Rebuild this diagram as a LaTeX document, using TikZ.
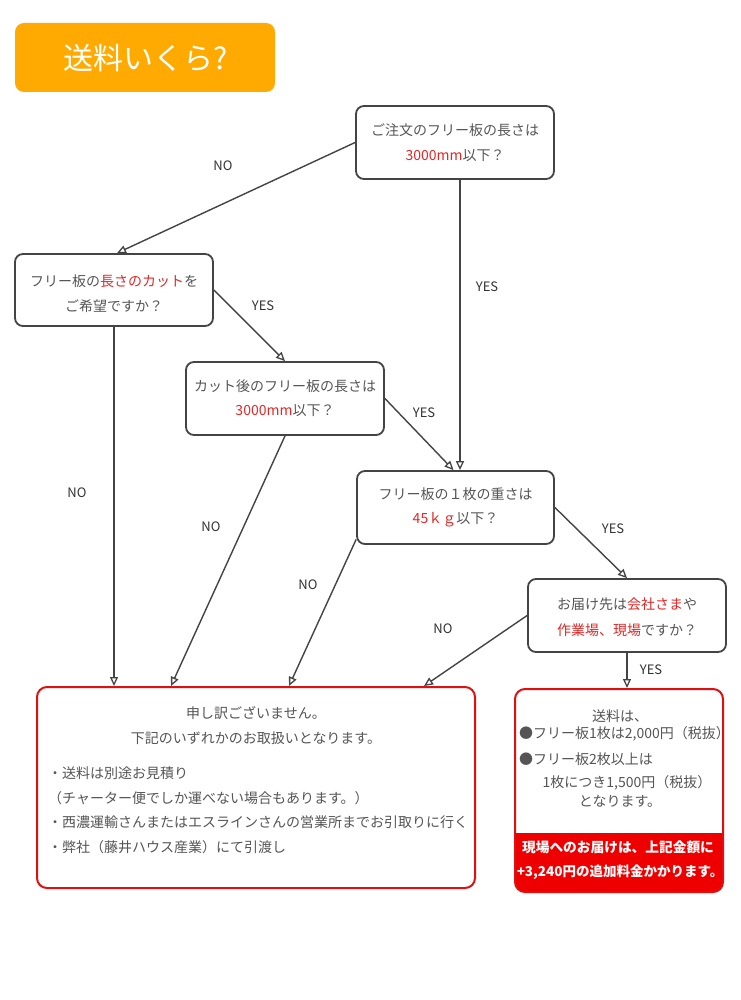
\documentclass[tikz,border=0pt]{standalone}
\usepackage{fontspec}
\setmainfont{Noto Sans CJK JP}
\usetikzlibrary{arrows.meta,calc}
\definecolor{boxline}{HTML}{444444}
\definecolor{txtgrey}{HTML}{555555}
\definecolor{labgrey}{HTML}{333333}
\definecolor{redtxt}{HTML}{E02828}
\definecolor{redline}{HTML}{E01010}
\definecolor{redfill}{HTML}{EE0000}
\definecolor{titleorange}{HTML}{FFAA00}
\tikzset{
  qbox/.style={draw=boxline,line width=1.8pt,rounded corners=8pt,inner sep=0pt},
  rbox/.style={draw=redline,line width=2pt,rounded corners=10pt,inner sep=0pt},
  txt/.style={inner sep=0pt,text=txtgrey,font=\fontsize{14}{16}\selectfont},
  lab/.style={inner sep=0pt,text=labgrey,font=\fontsize{13}{15}\selectfont},
  conn/.style={draw=boxline,line width=1.4pt,-{Triangle[open,length=9pt,width=8pt,line width=1.3pt]}},
}
\newcommand{\rd}[1]{\textcolor{redtxt}{#1}}
\begin{document}
\begin{tikzpicture}[x=1pt,y=-1pt]
\useasboundingbox (0,0) rectangle (740,1000);
\fill[white] (0,0) rectangle (740,1000);
% title
\node[fill=titleorange,rounded corners=9pt,minimum width=260pt,minimum height=69pt,inner sep=0pt] (title) at (145,57.5) {};
\node[inner sep=0pt,text=white,font=\fontsize{30}{32}\selectfont] (titletext) at (146,58) {送料いくら?};
% question boxes
\node[qbox,minimum width=198pt,minimum height=73pt] (A) at (455,142.5) {};
\node[txt] (A1) at (455,130) {ご注文のフリー板の長さは};
\node[txt] (A2) at (455,156) {\rd{3000mm}以下？};
\node[qbox,minimum width=198pt,minimum height=72pt] (B) at (114,290) {};
\node[txt] (B1) at (114,281) {フリー板の\rd{長さのカット}を};
\node[txt] (B2) at (114,306) {ご希望ですか？};
\node[qbox,minimum width=198pt,minimum height=73pt] (C) at (285,398.5) {};
\node[txt] (C1) at (285,386) {カット後のフリー板の長さは};
\node[txt] (C2) at (285,411) {\rd{3000mm}以下？};
\node[qbox,minimum width=197pt,minimum height=73pt] (D) at (455.5,507.5) {};
\node[txt] (D1) at (455.5,494) {フリー板の１枚の重さは};
\node[txt] (D2) at (455.5,520) {\rd{45ｋｇ}以下？};
\node[qbox,minimum width=198pt,minimum height=73pt] (E) at (627,615.5) {};
\node[txt] (E1) at (627,604) {お届け先は\rd{会社さま}や};
\node[txt] (E2) at (627,630) {\rd{作業場、現場}ですか？};
% result box F
\node[rbox,minimum width=438pt,minimum height=201pt] (F) at (256,787.5) {};
\node[txt] (F1) at (256,713) {申し訳ございません。};
\node[txt] (F2) at (256,738) {下記のいずれかのお取扱いとなります。};
\node[txt,anchor=west] (F3) at (48,773) {・送料は別途お見積り};
\node[txt,anchor=west] (F4) at (48,798) {（チャーター便でしか運べない場合もあります。）};
\node[txt,anchor=west] (F5) at (48,822) {・西濃運輸さんまたはエスラインさんの営業所までお引取りに行く};
\node[txt,anchor=west] (F6) at (48,847) {・弊社（藤井ハウス産業）にて引渡し};
% result box G
\begin{scope}
\clip[rounded corners=10pt] (515,689) rectangle (723,892);
\fill[redfill] (515,833) rectangle (723,892);
\end{scope}
\node[rbox,minimum width=208pt,minimum height=203pt] (G) at (619,790.5) {};
\node[txt] (G1) at (620,716) {送料は、};
\node[txt,anchor=west] (G2) at (519,734) {●フリー板1枚は2,000円（税抜）};
\node[txt,anchor=west] (G3) at (519,759) {●フリー板2枚以上は};
\node[txt] (G4) at (627,783) {1枚につき1,500円（税抜）};
\node[txt] (G5) at (620,801) {となります。};
\node[inner sep=0pt,text=white,font=\fontsize{13.7}{16}\selectfont\bfseries] (G6) at (618,847) {現場へのお届けは、上記金額に};
\node[inner sep=0pt,text=white,font=\fontsize{13.5}{16}\selectfont\bfseries] (G7) at (620,872) {+3,240円の追加料金かかります。};
% connectors
\draw[conn] (A.west) -- ([xshift=3pt]B.north);
\draw[conn] ([xshift=5pt]A.south) -- ([xshift=5pt]A.south |- D.north);
\draw[conn] (B.east) -- (C.north);
\draw[conn] (B.south) -- (B.south |- F.north);
\draw[conn] (C.east) -- ([xshift=-2pt]D.north);
\draw[conn] (C.south) -- ([xshift=135pt]F.north west);
\draw[conn] ([yshift=-32pt]D.west) -- ([xshift=253pt]F.north west);
\draw[conn] (D.east) -- (E.north);
\draw[conn] (E.west) -- ([xshift=388pt]F.north west);
\draw[conn] (E.south) -- (E.south |- G.north);
% labels
\node[lab] (l1) at (223,166) {NO};
\node[lab] (l2) at (487,287) {YES};
\node[lab] (l3) at (263,306) {YES};
\node[lab] (l4) at (77,493) {NO};
\node[lab] (l5) at (424,413) {YES};
\node[lab] (l6) at (211,527) {NO};
\node[lab] (l7) at (308,585) {NO};
\node[lab] (l8) at (613,529) {YES};
\node[lab] (l9) at (443,629) {NO};
\node[lab] (l10) at (651,670) {YES};
\end{tikzpicture}
\end{document}
